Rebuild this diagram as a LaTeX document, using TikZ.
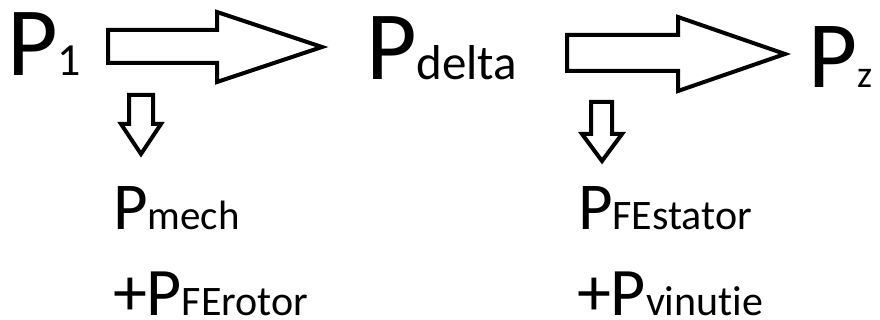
\documentclass[tikz,border=0pt]{standalone}
\usepackage{fontspec}
\setmainfont[Ligatures=NoCommon,RawFeature={-liga;-dlig}]{Carlito}
\newcommand{\fsz}[1]{\fontsize{#1}{#1}\selectfont}
\begin{document}
\begin{tikzpicture}[x=1pt,y=-1pt,
  txt/.style={anchor=base west,inner sep=0pt,outer sep=0pt,text=black},
  blockarrow/.style={draw=black,line width=4pt,fill=white,line join=miter}]
\useasboundingbox (0,0) rectangle (880,320);
% top row
\node[txt] (p1) at (7,76) {\fsz{98}P\fsz{46}1};
\node[txt] (pdelta) at (366,80) {\fsz{98}P\fsz{49}delta};
\node[txt] (pz) at (808,88) {\fsz{95}P\fsz{38}z};
% big hollow arrows
\draw[blockarrow] (108,30) -- (217,30) -- (217,12) -- (322,47) -- (217,82) -- (217,63) -- (108,63) -- cycle;
\draw[blockarrow] (567,35) -- (678,35) -- (678,17) -- (785,54) -- (678,91) -- (678,71) -- (567,71) -- cycle;
% small down arrows
\draw[blockarrow] (129,95) -- (153,95) -- (153,124) -- (161,124) -- (141,154) -- (121,124) -- (129,124) -- cycle;
\draw[blockarrow] (591,102) -- (612,102) -- (612,134) -- (622,134) -- (602,161) -- (582,134) -- (591,134) -- cycle;
% bottom texts
\node[txt] (pmech) at (113,230) {\fsz{67}P\fsz{41}mech};
\node[txt] (pferotor) at (113,315) {\fsz{68}+P\fsz{42}FErotor};
\node[txt] (pfestator) at (578,230) {\fsz{67}P\fsz{42}FEstator};
\node[txt] (pvinutie) at (577,315) {\fsz{68}+P\fsz{42}vinutie};
\end{tikzpicture}
\end{document}
